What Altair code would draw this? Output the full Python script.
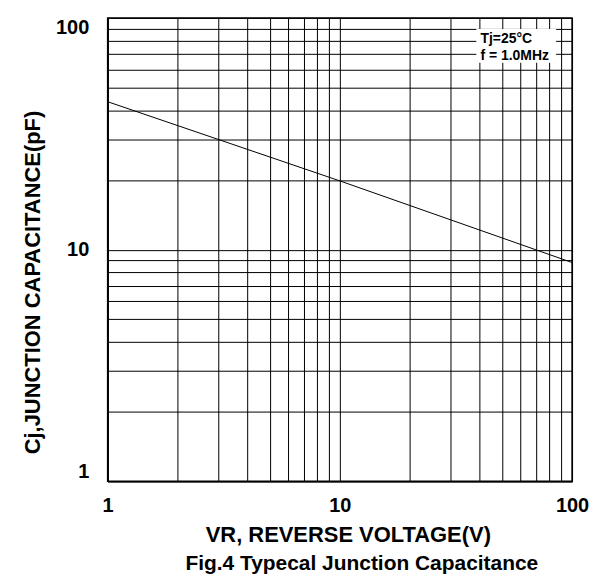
import altair as alt
import pandas as pd

# Data
voltage = [1, 10, 100]
capacitance = [43.5, 19.8, 8.8]
grid_values = [1, 2, 3, 4, 5, 6, 7, 8, 9, 10, 20, 30, 40, 50, 60, 70, 80, 90, 100]
label_values = [1, 10, 100]
note_lines = ["Tj=25°C", "f = 1.0MHz"]
note_x = [40.3, 40.3]
note_y = [81.2, 68.6]
box_x = [38.7]
box_x2 = [85.4]
box_y = [89.7]
box_y2 = [64.0]

FONT = "Liberation Sans"

line_df = pd.DataFrame({"VR": voltage, "Cj": capacitance})
note_df = pd.DataFrame({"x": note_x, "y": note_y, "t": note_lines})
box_df = pd.DataFrame({"x": box_x, "x2": box_x2, "y": box_y, "y2": box_y2})

label_expr = "datum.value == 1 || datum.value == 10 || datum.value == 100 ? format(datum.value, 'd') : ''"

common_axis = dict(
    values=grid_values,
    labelExpr=label_expr,
    grid=True,
    gridColor="black",
    gridOpacity=1,
    gridWidth=1,
    ticks=False,
    domainColor="black",
    domainWidth=1.5,
    labelFont=FONT,
    labelFontSize=20,
    labelFontWeight="bold",
    labelColor="black",
    labelOverlap=False,
    titleFont=FONT,
    titleFontSize=22,
    titleFontWeight="bold",
    titleColor="black",
)

x_scale = alt.Scale(type="log", domain=[1, 100], nice=False)
y_scale = alt.Scale(type="log", domain=[1, 100], nice=False)

line = alt.Chart(line_df).mark_line(color="black", strokeWidth=1).encode(
    x=alt.X("VR:Q", scale=x_scale,
            axis=alt.Axis(title="VR, REVERSE VOLTAGE(V)", labelPadding=14,
                          labelFlush=False, titlePadding=9, titleX=241, **common_axis)),
    y=alt.Y("Cj:Q", scale=y_scale,
            axis=alt.Axis(title="Cj,JUNCTION CAPACITANCE(pF)", labelPadding=19,
                          labelFlush=True, titlePadding=11, titleY=265, **common_axis)),
)

box = alt.Chart(box_df).mark_rect(color="white").encode(
    x=alt.X("x:Q", scale=x_scale), x2="x2:Q",
    y=alt.Y("y:Q", scale=y_scale), y2="y2:Q",
)

notes = alt.Chart(note_df).mark_text(
    align="left", baseline="middle", font=FONT, fontSize=14,
    fontWeight="bold", color="black"
).encode(
    x=alt.X("x:Q", scale=x_scale),
    y=alt.Y("y:Q", scale=y_scale),
    text="t:N",
)

chart = alt.layer(line, box, notes).properties(
    width=466,
    height=465,
    padding={"left": 13, "top": 9, "right": 0, "bottom": 0},
    title=alt.TitleParams(
        text="Fig.4 Typecal Junction Capacitance",
        orient="bottom",
        frame="group",
        anchor="middle",
        dx=22,
        offset=8,
        font=FONT,
        fontSize=21,
        fontWeight="bold",
        color="black",
    ),
).configure_view(stroke="black", strokeWidth=1.5)

chart.save("out.html", embed_options={"renderer": "svg", "actions": False})
